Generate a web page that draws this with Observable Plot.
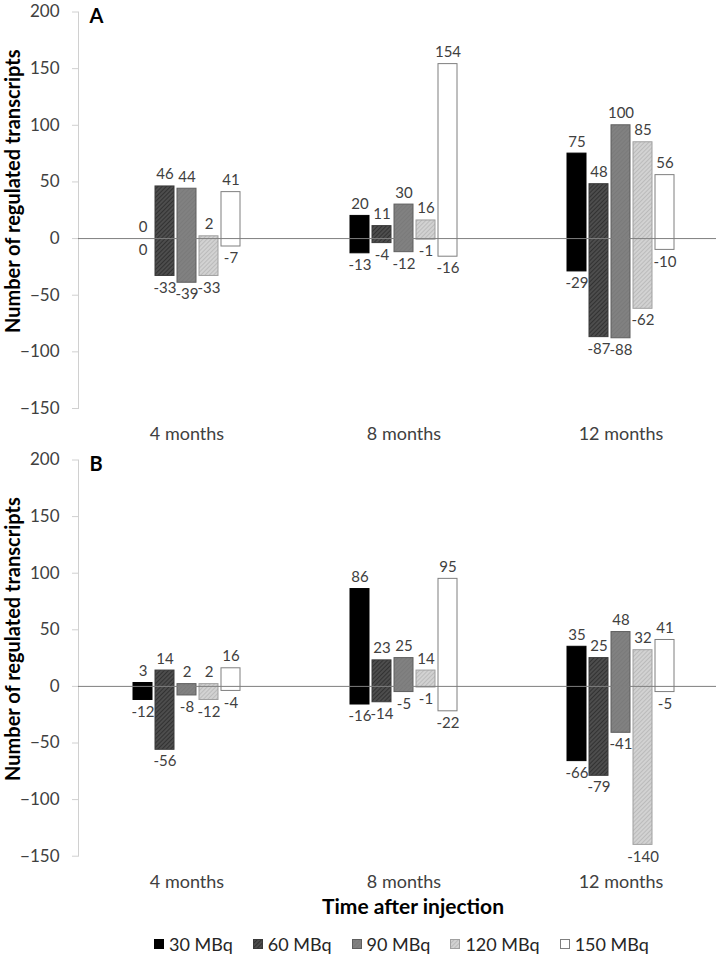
<!DOCTYPE html>
<html><head><meta charset="utf-8">
<script src="https://cdn.jsdelivr.net/npm/d3@7"></script>
<script src="https://cdn.jsdelivr.net/npm/@observablehq/plot@0.6"></script>
<style>
body{margin:0;background:#fff;font-family:Lato,sans-serif;}
#wrap{position:relative;width:716px;height:960px;overflow:hidden;}
#wrap > svg{display:block;}
.legend{position:absolute;top:933px;left:154px;display:flex;align-items:center;font-size:18px;color:#262626;white-space:nowrap;}
.item{display:flex;align-items:center;margin-right:20px;}
.item svg{margin-right:5px;}
</style></head><body>
<svg width="0" height="0" style="position:absolute">
<defs>
<pattern id="p60" patternUnits="userSpaceOnUse" width="3" height="3" patternTransform="rotate(45)">
<rect width="3" height="3" fill="#4d4d4d"/><line x1="0" y1="0" x2="0" y2="3" stroke="#262626" stroke-width="1.4"/></pattern>
<pattern id="p90" patternUnits="userSpaceOnUse" width="3" height="3" patternTransform="rotate(45)">
<rect width="3" height="3" fill="#818181"/><line x1="0" y1="0" x2="0" y2="3" stroke="#737373" stroke-width="1"/></pattern>
<pattern id="p120" patternUnits="userSpaceOnUse" width="3" height="3" patternTransform="rotate(45)">
<rect width="3" height="3" fill="#d2d2d2"/><line x1="0" y1="0" x2="0" y2="3" stroke="#a9a9a9" stroke-width="1.1"/></pattern>
</defs></svg>
<div id="wrap"></div>
<script>
const months = ["4 months", "8 months", "12 months"];
const doses = ["30 MBq", "60 MBq", "90 MBq", "120 MBq", "150 MBq"];
const yTicks = [-150, -100, -50, 0, 50, 100, 150, 200];

// Panel A: up- and down-regulated transcripts (rows = months, cols = doses)
const upA = [[0, 46, 44, 2, 41], [20, 11, 30, 16, 154], [75, 48, 100, 85, 56]];
const downA = [[0, -33, -39, -33, -7], [-13, -4, -12, -1, -16], [-29, -87, -88, -62, -10]];
// Panel B
const upB = [[3, 14, 2, 2, 16], [86, 23, 25, 14, 95], [35, 25, 48, 32, 41]];
const downB = [[-12, -56, -8, -12, -4], [-16, -14, -5, -1, -22], [-66, -79, -41, -140, -5]];

const fills = ["#000000", "url(#p60)", "url(#p90)", "url(#p120)", "#ffffff"];
const strokes = ["#000000", "#3a3a3a", "#5e5e5e", "#a0a0a0", "#7f7f7f"];

function rows(up, down) {
  const r = [];
  months.forEach((m, i) => doses.forEach((d, j) => r.push({month: m, dose: d, up: up[i][j], down: down[i][j]})));
  return r;
}

function panel(letter, data, height, marginBottom, withTitle) {
  const marks = [];
  doses.forEach((d, j) => {
    marks.push(Plot.barY(data.filter(r => r.dose === d), {
      fx: "month", x: "dose", y1: "down", y2: "up", fill: fills[j], stroke: strokes[j], strokeWidth: 1
    }));
  });
  marks.push(Plot.ruleY([0], {stroke: "#7f7f7f", strokeWidth: 1}));
  marks.push(Plot.text(data, {fx: "month", x: "dose", y: "up", text: d => String(d.up), lineAnchor: "bottom", dy: -7, fontSize: 15, fill: "#404040"}));
  marks.push(Plot.text(data, {fx: "month", x: "dose", y: "down", text: d => String(d.down), lineAnchor: "top", dy: 6, fontSize: 15, fill: "#404040"}));
  marks.push(Plot.text([{month: months[0]}], {fx: "month", frameAnchor: "top-left", text: () => letter, textAnchor: "start", lineAnchor: "bottom", dx: 11, dy: 10.5, fontSize: 20, fontWeight: "bold", fill: "#000"}));
  marks.push(Plot.text([{month: months[0]}], {fx: "month", frameAnchor: "left", text: () => "Number of regulated transcripts", rotate: -90, textAnchor: "middle", lineAnchor: "middle", dx: -65, dy: -19, fontSize: 20, fontWeight: "bold", fill: "#000"}));
  if (withTitle) {
    marks.push(Plot.text([{month: months[1]}], {fx: "month", frameAnchor: "bottom", text: () => "Time after injection", textAnchor: "middle", lineAnchor: "middle", dx: 9, dy: 51, fontSize: 21, fontWeight: "bold", fill: "#000"}));
  }
  const svg = Plot.plot({
    width: 716, height, marginLeft: 78, marginRight: 0, marginTop: 11.5, marginBottom,
    style: {fontFamily: "Lato, sans-serif", fontSize: "17px", color: "#d0d0d0", background: "transparent", overflow: "visible"},
    fx: {domain: months, range: [78, 729.5], padding: 0, label: null, tickSize: 0, tickPadding: 19, axis: "bottom"},
    x: {domain: doses, paddingInner: 0.12, paddingOuter: 2.46, axis: null},
    y: {domain: [-150, 200], ticks: yTicks, tickSize: 6, tickPadding: 13, label: null, line: true},
    marks
  });
  const s = d3.select(svg);
  // axis lines and ticks stay light gray (currentColor); axis text is dark
  s.selectAll('[aria-label*="axis"] text').attr("fill", "#404040");
  s.selectAll('[aria-label*="axis"]').filter(function() { return (this.getAttribute("aria-label") || "").includes("label"); }).attr("fill", "#404040");
  s.selectAll('[aria-label^="fx-axis"] text').attr("font-size", 18);
  return svg;
}

const wrap = document.getElementById("wrap");
wrap.appendChild(panel("A", rows(upA, downA), 448, 40, false));
wrap.appendChild(panel("B", rows(upB, downB), 475, 67.3, true));

const legend = document.createElement("div");
legend.className = "legend";
doses.forEach((d, j) => {
  const item = document.createElement("div");
  item.className = "item";
  item.innerHTML = `<svg width="10" height="10"><rect x="0.5" y="0.5" width="9" height="9" fill="${fills[j]}" stroke="${strokes[j]}"/></svg><span>${d}</span>`;
  legend.appendChild(item);
});
wrap.appendChild(legend);
</script>
</body></html>
